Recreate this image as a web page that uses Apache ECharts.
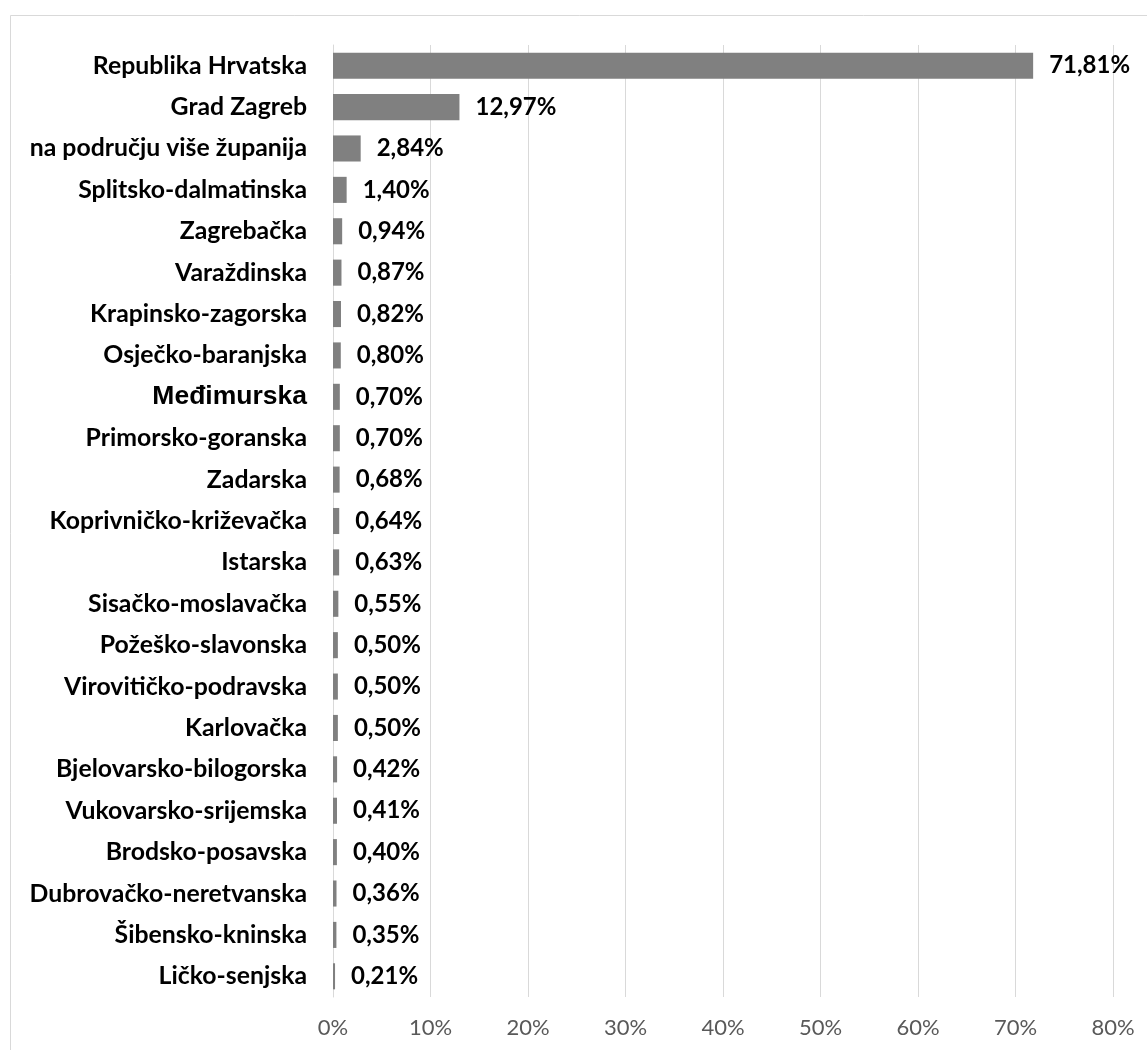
<!DOCTYPE html>
<html>
<head>
<meta charset="utf-8">
<script src="https://cdn.jsdelivr.net/npm/echarts@6/dist/echarts.min.js"></script>
<style>
html,body{margin:0;padding:0;background:#fff;}
#chart{width:1147px;height:1050px;}
</style>
</head>
<body>
<div id="chart"></div>
<script>
const categories = [
  "Republika Hrvatska","Grad Zagreb","na području više županija","Splitsko-dalmatinska",
  "Zagrebačka","Varaždinska","Krapinsko-zagorska","Osječko-baranjska","Međimurska",
  "Primorsko-goranska","Zadarska","Koprivničko-križevačka","Istarska","Sisačko-moslavačka",
  "Požeško-slavonska","Virovitičko-podravska","Karlovačka","Bjelovarsko-bilogorska",
  "Vukovarsko-srijemska","Brodsko-posavska","Dubrovačko-neretvanska","Šibensko-kninska","Ličko-senjska"
];
const values = [71.81,12.97,2.84,1.40,0.94,0.87,0.82,0.80,0.70,0.70,0.68,0.64,0.63,0.55,0.50,0.50,0.50,0.42,0.41,0.40,0.36,0.35,0.21];
const tickLabels = ["0%","10%","20%","30%","40%","50%","60%","70%","80%"];

const chart = echarts.init(document.getElementById('chart'), null, {renderer:'canvas'});
const LABEL_FONT = 'Lato, "Open Sans", sans-serif';
chart.setOption({
  animation:false,
  backgroundColor:'#fff',
  graphic:[{type:'rect',shape:{x:10.5,y:15.5,width:1300,height:1200},style:{fill:'none',stroke:'#d9d9d9',lineWidth:1}}],
  grid:{left:333,right:34,top:45,bottom:53,containLabel:false},
  xAxis:{
    type:'value',min:0,max:80,interval:10,
    axisLine:{show:false},axisTick:{show:false},
    splitLine:{show:true,lineStyle:{color:'#d9d9d9',width:1}},
    axisLabel:{formatter:function(v){return tickLabels[Math.round(v/10)];},color:'#595959',fontSize:22,fontFamily:LABEL_FONT,margin:20}
  },
  yAxis:{
    type:'category',inverse:true,data:categories,
    axisLine:{show:true,lineStyle:{color:'#d9d9d9'}},axisTick:{show:false},
    axisLabel:{
      color:'#000',fontSize:24.8,fontWeight:'bold',fontFamily:LABEL_FONT,margin:26,
      formatter:function(v){return v==='Međimurska' ? '{a|'+v+'}' : v;},
      rich:{a:{fontFamily:'"Liberation Sans", Arial, sans-serif',fontSize:26.5,fontWeight:'bold',color:'#000'}}
    }
  },
  series:[{
    type:'bar',data:values,barCategoryGap:'37%',
    itemStyle:{color:'#808080'},
    label:{show:true,position:'right',distance:16,color:'#000',fontSize:24,fontWeight:'bold',fontFamily:LABEL_FONT,
      formatter:function(p){return p.value.toFixed(2).replace('.',',')+'%';}}
  }]
});
</script>
</body>
</html>
